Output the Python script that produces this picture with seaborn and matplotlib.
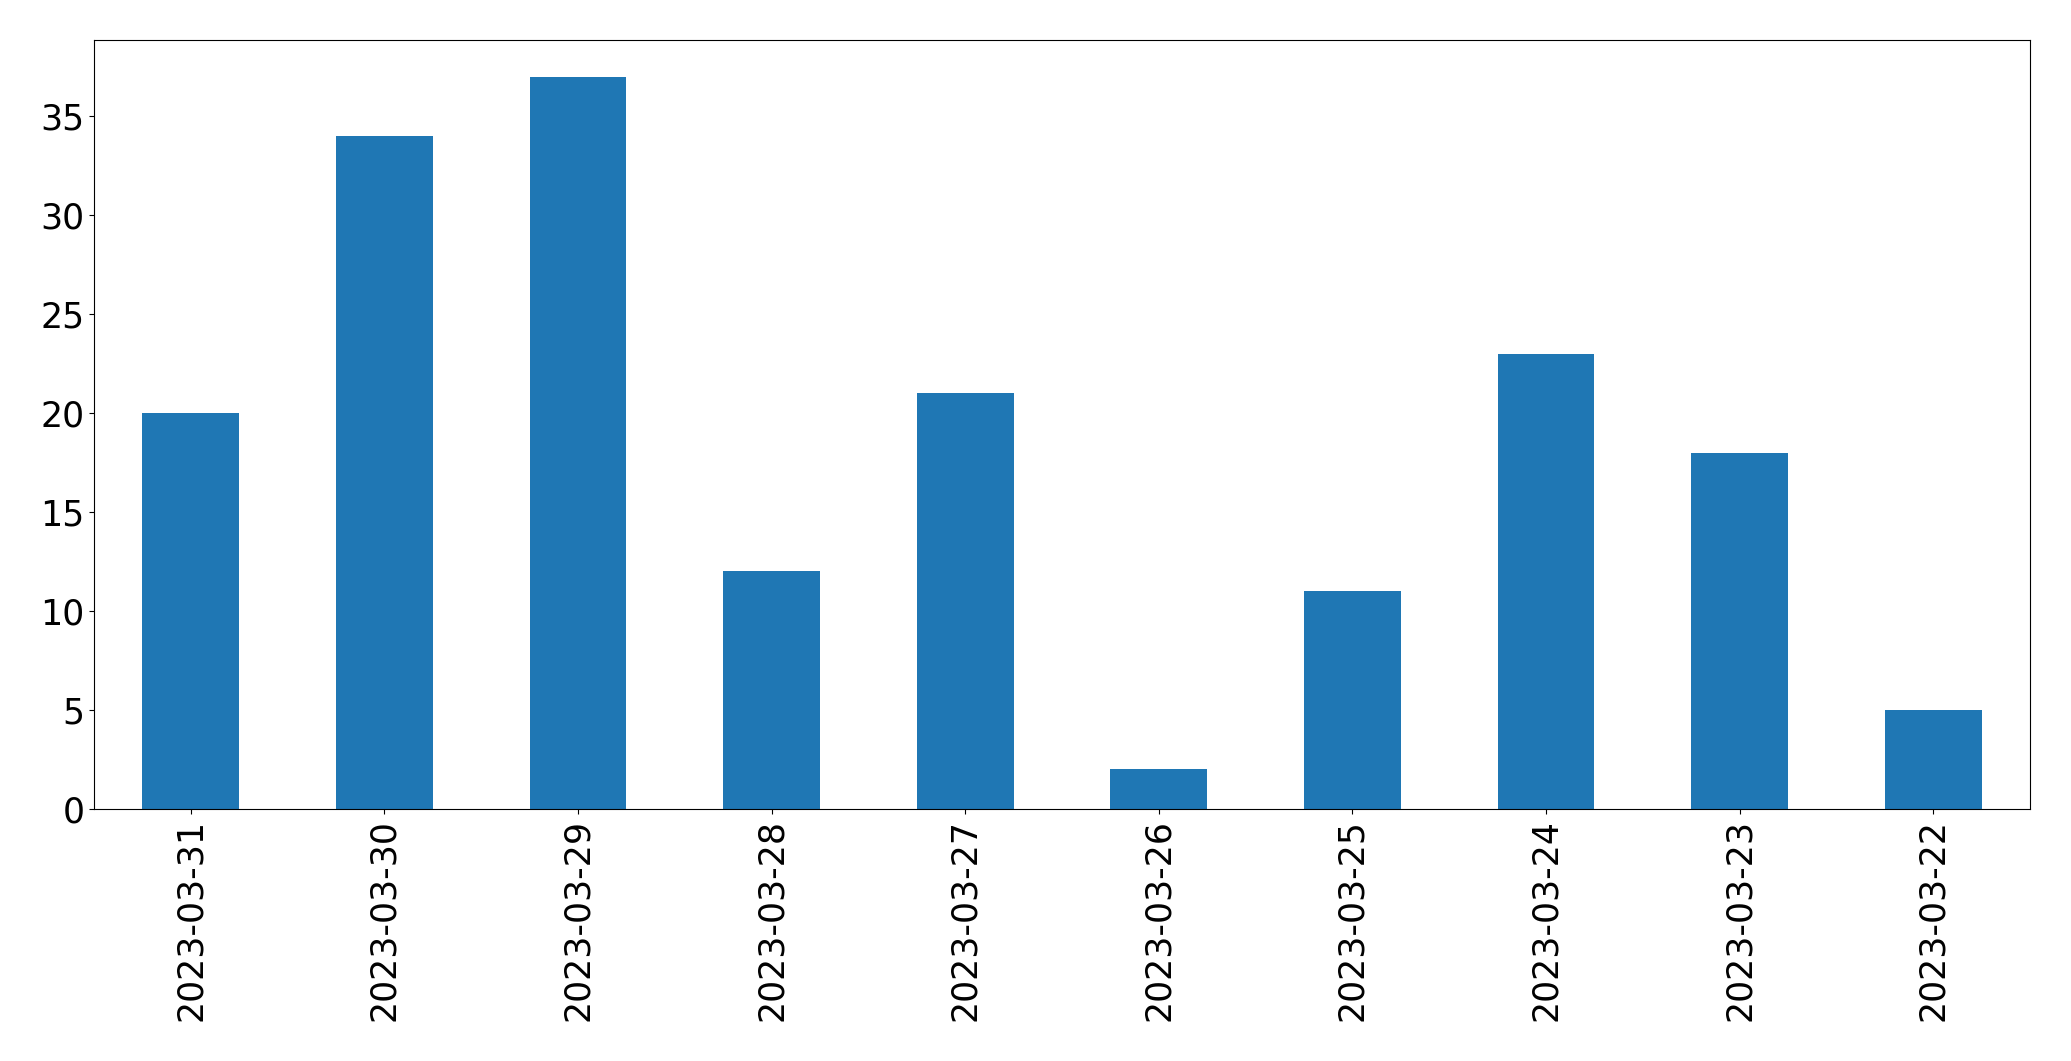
import matplotlib
matplotlib.use("Agg")
import matplotlib.pyplot as plt
import seaborn as sns
import pandas as pd

dates = ["2023-03-31", "2023-03-30", "2023-03-29", "2023-03-28", "2023-03-27",
         "2023-03-26", "2023-03-25", "2023-03-24", "2023-03-23", "2023-03-22"]
counts = [20, 34, 37, 12, 21, 2, 11, 23, 18, 5]

df = pd.DataFrame({"date": dates, "count": counts})

fig = plt.figure(figsize=(20.71, 10.61), dpi=100)
ax = fig.add_axes([94/2071, 1 - 809/1061, (2030-94)/2071, (809-40)/1061])
sns.barplot(data=df, x="date", y="count", order=dates, color="#1f77b4",
            saturation=1, width=0.5, ax=ax)
ax.set_xlim(-0.5, 9.5)
ax.set_ylim(0, 38.85)
ax.set_xlabel("")
ax.set_ylabel("")
ax.tick_params(axis="both", labelsize=25)
plt.setp(ax.get_xticklabels(), rotation=90)
fig.savefig("out.png", dpi=100)
